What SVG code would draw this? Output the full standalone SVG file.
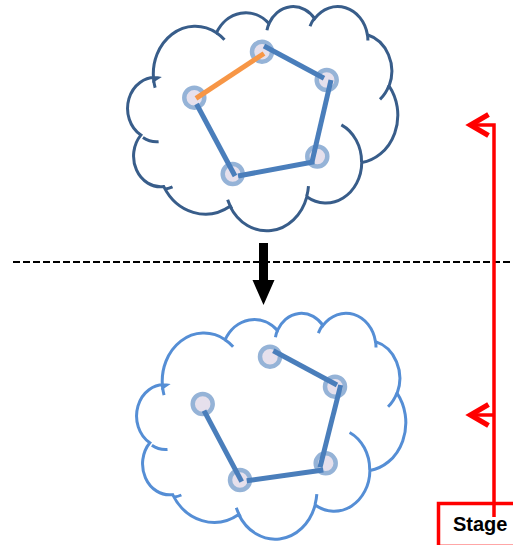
<svg xmlns="http://www.w3.org/2000/svg" width="513" height="545" viewBox="0 0 513 545">
  <style>
    .cloud { fill: #ffffff; stroke-width: 3; }
    .hooks { fill: none; stroke-width: 3; }
    .dark { stroke: #385D8A; }
    .light { stroke: #558ED5; }
    .node { fill: #E6E0EC; stroke: #95B3D7; stroke-width: 4.5; }
    .edge { stroke: #4A7EBB; stroke-width: 5; fill: none; }
    .hot { stroke: #F79646; stroke-width: 5; fill: none; }
    .red { stroke: #FF0000; stroke-width: 3.5; fill: none; }
    .label { font-family: "Liberation Sans", Arial, sans-serif; font-weight: bold; font-size: 20px; fill: #000000; }
  </style>
  <defs>
    <marker id="openArrow" markerUnits="userSpaceOnUse" orient="auto" markerWidth="30" markerHeight="30" viewBox="-16 -10 20 20" refX="0" refY="0" overflow="visible">
      <path d="M-12,-7 L0,0 L-12,7" fill="none" stroke="#FF0000" stroke-width="3.5"/>
    </marker>
  </defs>

  <!-- upper cloud (outline drawn in a 432 x 432 unit box, then scaled) -->
  <g id="cloud-top">
    <g transform="translate(129.5,5.8) scale(0.6208,0.519)">
      <path class="cloud dark" vector-effect="non-scaling-stroke" d="M39,143.7 A67.53,91.9 0 0 1 140.1,52.0 A53.33,72.67 0 0 1 224.6,34.3 A43.65,59.45 0 0 1 298.3,24.8 A48.57,65.95 0 0 1 383.2,55.8 A53.33,72.73 0 0 1 418.2,154.6 A67.75,92.2 0 0 1 374.1,302.0 A57.85,78.67 0 0 1 285.6,368.1 A67.52,92.15 0 0 1 162.0,386.3 A77.2,105.43 0 0 1 55.2,348.3 A43.6,59.18 0 0 1 18.3,249.1 A43.45,59.45 0 0 1 45.3,138.8 Z"/>
      <path class="hooks dark" vector-effect="non-scaling-stroke" d="M46.9,261.8 A43.45,59.45 0 0 1 21.6,253.8 M69.3,349.0 A43.6,59.18 0 0 1 58.2,352.8 M164.8,390.9 A67.52,92.15 0 0 1 158.1,373.5 M288.3,347.5 A67.52,92.15 0 0 1 285.6,366.6 M341.3,229.5 A57.85,78.67 0 0 1 373.8,300.9 M418.0,153.5 A53.33,72.73 0 0 1 403.5,180.3 M383.2,54.3 A48.57,65.95 0 0 1 384.0,66.9 M290.8,39.5 A48.57,65.95 0 0 1 298.2,23.4 M221.4,47.2 A43.65,59.45 0 0 1 225.0,33.3 M140.0,51.9 A67.53,91.9 0 0 1 153.0,65.4 M41.3,157.9 A67.53,91.9 0 0 1 39.0,143.7"/>
    </g>
  </g>

  <!-- lower cloud -->
  <g id="cloud-bottom">
    <g transform="translate(138.5,312.5) scale(0.6185,0.5229)">
      <path class="cloud light" vector-effect="non-scaling-stroke" d="M39,143.7 A67.53,91.9 0 0 1 140.1,52.0 A53.33,72.67 0 0 1 224.6,34.3 A43.65,59.45 0 0 1 298.3,24.8 A48.57,65.95 0 0 1 383.2,55.8 A53.33,72.73 0 0 1 418.2,154.6 A67.75,92.2 0 0 1 374.1,302.0 A57.85,78.67 0 0 1 285.6,368.1 A67.52,92.15 0 0 1 162.0,386.3 A77.2,105.43 0 0 1 55.2,348.3 A43.6,59.18 0 0 1 18.3,249.1 A43.45,59.45 0 0 1 45.3,138.8 Z"/>
      <path class="hooks light" vector-effect="non-scaling-stroke" d="M46.9,261.8 A43.45,59.45 0 0 1 21.6,253.8 M69.3,349.0 A43.6,59.18 0 0 1 58.2,352.8 M164.8,390.9 A67.52,92.15 0 0 1 158.1,373.5 M288.3,347.5 A67.52,92.15 0 0 1 285.6,366.6 M341.3,229.5 A57.85,78.67 0 0 1 373.8,300.9 M418.0,153.5 A53.33,72.73 0 0 1 403.5,180.3 M383.2,54.3 A48.57,65.95 0 0 1 384.0,66.9 M290.8,39.5 A48.57,65.95 0 0 1 298.2,23.4 M221.4,47.2 A43.65,59.45 0 0 1 225.0,33.3 M140.0,51.9 A67.53,91.9 0 0 1 153.0,65.4 M41.3,157.9 A67.53,91.9 0 0 1 39.0,143.7"/>
    </g>
  </g>

  <!-- upper ring nodes -->
  <g id="t1"><circle class="node" cx="262" cy="51.7" r="10"/></g>
  <g id="t2"><circle class="node" cx="326.7" cy="80" r="10"/></g>
  <g id="t3"><circle class="node" cx="194.3" cy="97.7" r="10"/></g>
  <g id="t4"><circle class="node" cx="232.7" cy="174" r="10"/></g>
  <g id="t5"><circle class="node" cx="317.3" cy="156.5" r="10"/></g>

  <!-- lower ring nodes -->
  <g id="b1"><circle class="node" cx="270" cy="356.7" r="10"/></g>
  <g id="b2"><circle class="node" cx="335" cy="386.7" r="10"/></g>
  <g id="b3"><circle class="node" cx="202.7" cy="404" r="10"/></g>
  <g id="b4"><circle class="node" cx="240" cy="480" r="10"/></g>
  <g id="b5"><circle class="node" cx="325.7" cy="463.3" r="10"/></g>

  <!-- connectors -->
  <g id="connectors">
    <line class="hot" x1="196" y1="98.3" x2="264" y2="53.5"/>
    <line class="edge" x1="264" y1="46" x2="324" y2="78.3"/>
    <line class="edge" x1="331" y1="80" x2="311.7" y2="163.3"/>
    <line class="edge" x1="314.3" y1="161.7" x2="238" y2="176"/>
    <line class="edge" x1="235" y1="176" x2="196.5" y2="104"/>

    <line class="edge" x1="273.3" y1="350.7" x2="337" y2="385"/>
    <line class="edge" x1="340.7" y1="385" x2="320" y2="467.3"/>
    <line class="edge" x1="323.3" y1="470" x2="246.7" y2="480.7"/>
    <line class="edge" x1="241.7" y1="481.7" x2="204" y2="410.7"/>

    <!-- stage divider -->
    <line x1="13" y1="262" x2="513" y2="262" stroke="#000000" stroke-width="1.8" stroke-dasharray="7 3"/>

    <!-- transition arrow -->
    <polygon points="259,243 268,243 268,280 274.5,280 263.5,305 252.5,280 259,280" fill="#000000"/>

    <!-- stage axis -->
    <path class="red" d="M494,517 V125 H470.5" marker-end="url(#openArrow)"/>
    <path class="red" d="M494,415 H470.5" marker-end="url(#openArrow)"/>
  </g>

  <!-- stage label -->
  <g id="stage">
    <path class="red" d="M438.5,545 V503.5 H513"/>
    <line x1="438.5" y1="544.5" x2="513" y2="544.5" stroke="#FF0000" stroke-width="1" stroke-opacity="0.35"/>
    <text class="label" x="453" y="531">Stage</text>
  </g>
</svg>
